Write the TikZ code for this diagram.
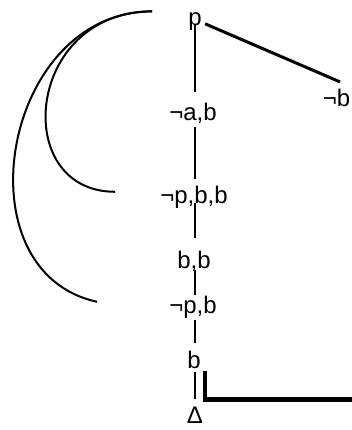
\documentclass[tikz,border=0pt]{standalone}
\usepackage{fontspec}
\setmainfont{Liberation Sans}
\usetikzlibrary{calc}

\begin{document}
\begin{tikzpicture}[
    x=1pt, y=-1pt,
    font=\fontsize{24}{28}\selectfont,
    lbl/.style={inner sep=0pt, anchor=base},
    edge/.style={line width=2pt},
    side/.style={line width=3pt},
    back/.style={line width=2pt},
    bar/.style={line width=4.5pt}
  ]
    \useasboundingbox (0,0) rectangle (352,430);

    % Tree labels (main branch and side branch)
    \node[lbl] at (195,25.5) (p) {p};
    \node[lbl] at (193,121) (nab) {¬a,b};
    \node[lbl] at (336.5,107) (nb) {¬b};
    \node[lbl] at (194,203) (npbb) {¬p,b,b};
    \node[lbl] at (194,268) (bb) {b,b};
    \node[lbl] at (193,313) (npb) {¬p,b};
    \node[lbl] at (194,368) (b) {b};
    \node[lbl] at (195,423) (delta) {Δ};

    % Main branch
    \draw[edge, shorten >=11pt] (p.base) -- (p.base |- nab.north);
    \draw[edge, shorten <=2.5pt, shorten >=6.5pt]
      (p.base |- nab.south) -- (p.base |- npbb.north);
    \draw[edge, shorten >=12.5pt] (p.base |- npbb.base) -- (p.base |- bb.north);
    \draw[edge, shorten <=2pt] (p.base |- bb.base) -- (p.base |- npb.north);
    \draw[edge, shorten <=2pt, shorten >=7.5pt]
      (p.base |- npb.south) -- (p.base |- b.north);
    \draw[edge, shorten <=4pt, shorten >=7pt]
      (p.base |- b.south) -- (p.base |- delta.north);

    % Side branch
    \draw[side] ([shift={(3.3,2.3)}]p.east) -- ([shift={(3.5,-7.5)}]nb.north);

    % Back links
    \draw[back] ([shift={(-36,-1)}]p.north west)
      .. controls +(-127,0) and +(-105,0) .. ([shift={(-45,-5)}]npbb.west);
    \draw[back] ([shift={(-36,-1)}]p.north west)
      .. controls +(-150,0) and +(-139,-30) .. ([shift={(-72,-5)}]npb.west);

    % Closing bar
    \coordinate (rim) at (356,399.5);
    \draw[bar] ([shift={(4.3,3)}]b.south east) |- (rim);
  \end{tikzpicture}
\end{document}
